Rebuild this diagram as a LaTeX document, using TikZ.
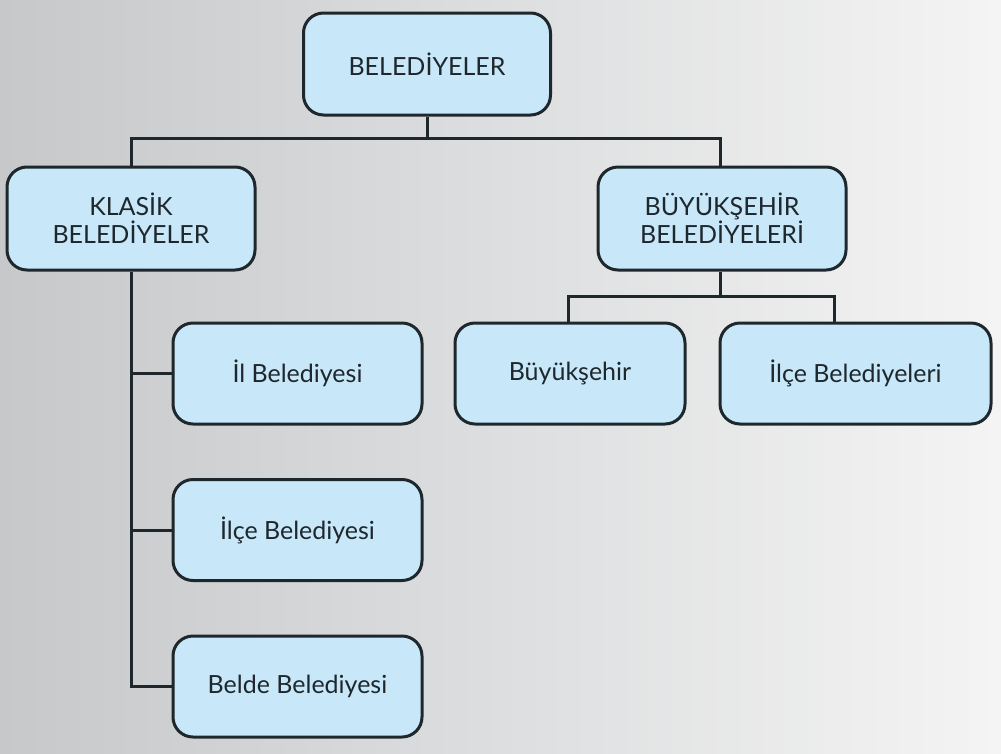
\documentclass[tikz,border=0pt]{standalone}
\usepackage{fontspec}
\setmainfont{Lato}
\definecolor{boxfill}{HTML}{C8E8FA}
\definecolor{boxline}{HTML}{1E272C}
\definecolor{bgleft}{HTML}{C6C8CA}
\definecolor{bgright}{HTML}{F4F4F4}
\begin{document}
\begin{tikzpicture}[x=1pt,y=-1pt,
  box/.style={draw=boxline, line width=3pt, fill=boxfill, rounded corners=20pt,
    align=center, font=\fontsize{25}{28}\selectfont, text=boxline, inner sep=0pt},
  link/.style={draw=boxline, line width=3pt}]
\shade[left color=bgleft, right color=bgright] (0,0) rectangle (1001,753);
\useasboundingbox (0,0) rectangle (1001,753);
\coordinate (hl) at (0,138);
\coordinate (hr) at (0,296);
\node[box, minimum width=247pt, minimum height=102pt] (top) at (427,64) {BELEDİYELER};
\node[box, minimum width=248pt, minimum height=103pt] (klasik) at (131,218.5) {KLASİK\\BELEDİYELER};
\node[box, minimum width=248pt, minimum height=103pt] (buyuk) at (722,218.5) {BÜYÜKŞEHİR\\BELEDİYELERİ};
\node[box, minimum width=230pt, minimum height=101pt] (bsehir) at (570,373.5) {Büyükşehir};
\node[box, minimum width=271pt, minimum height=101pt] (ilceB) at (855.5,373.5) {İlçe Belediyeleri};
\node[box, minimum width=249pt, minimum height=101pt] (il) at (297.5,373.5) {İl Belediyesi};
\node[box, minimum width=249pt, minimum height=101pt] (ilce) at (297.5,530) {İlçe Belediyesi};
\node[box, minimum width=249pt, minimum height=101pt] (belde) at (297.5,686.5) {Belde Belediyesi};
\coordinate (ilceBtop) at ([xshift=-21.5pt]ilceB.north);
\draw[link] (top.south) -- (top.south |- hl);
\draw[link] (klasik.north) -- (klasik.north |- hl) -| ([xshift=-2pt]buyuk.north);
\draw[link] (klasik.south) -- (klasik.south |- belde.west) -- (belde.west);
\draw[link] (klasik.south |- il.west) -- (il.west);
\draw[link] (klasik.south |- ilce.west) -- (ilce.west);
\draw[link] ([xshift=-2pt]buyuk.south) -- ([xshift=-2pt]buyuk.south |- hr);
\draw[link] ([xshift=-2pt]bsehir.north) -- ([xshift=-2pt]bsehir.north |- hr) -| (ilceBtop);
\end{tikzpicture}
\end{document}
